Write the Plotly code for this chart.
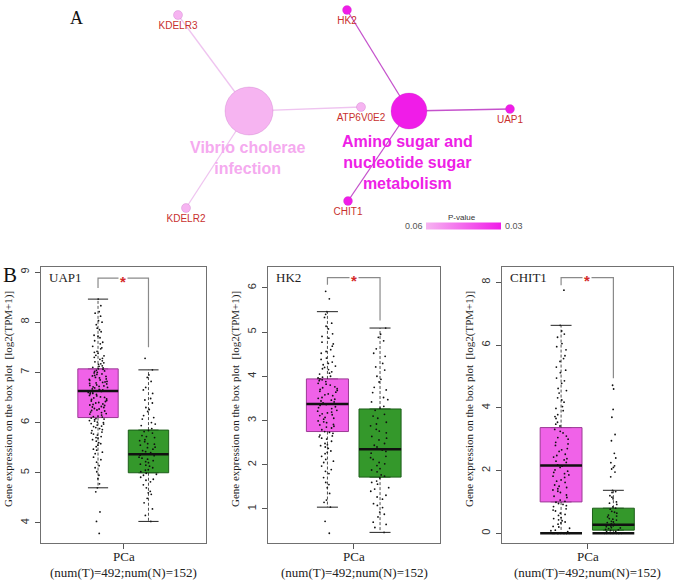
import plotly.graph_objects as go

W, H = 677, 581

# ---------------- panel A : enrichment network ----------------
node_names = ["Vibrio cholerae infection", "Amino sugar and nucleotide sugar metabolism",
              "KDELR3", "KDELR2", "ATP6V0E2", "HK2", "UAP1", "CHIT1"]
node_x = [249, 409, 178, 186, 361, 347, 510, 348]
node_y = [111, 111, 15, 208, 107, 10, 109, 201]
node_pvalue = [0.06, 0.03, 0.06, 0.06, 0.06, 0.03, 0.03, 0.03]
edge_from = [0, 0, 0, 1, 1, 1]
edge_to = [2, 3, 4, 5, 6, 7]
pathway_labels = ["Vibrio cholerae<br>infection", "Amino sugar and<br>nucleotide sugar<br>metabolism"]
pvalue_ticks = ["0.06", "0.03"]

# ---------------- panel B : expression box plots ----------------
genes = ["UAP1", "HK2", "CHIT1"]
n_tumor, n_normal = 492, 152
tumor_q1 = [6.10, 2.75, 1.00]
tumor_median = [6.63, 3.37, 2.16]
tumor_q3 = [7.07, 3.94, 3.37]
tumor_lower = [4.70, 1.04, 0.00]
tumor_upper = [8.46, 5.46, 6.63]
normal_q1 = [5.00, 1.72, 0.10]
normal_median = [5.37, 2.35, 0.27]
normal_q3 = [5.85, 3.26, 0.80]
normal_lower = [4.03, 0.47, 0.00]
normal_upper = [7.05, 5.09, 1.37]
y_ticks = [[4, 5, 6, 7, 8, 9], [1, 2, 3, 4, 5, 6], [0, 2, 4, 6, 8]]

# sample points (a readable subset of the jittered dots)
uap1_tumor = [3.79, 4.03, 4.22, 4.62, 4.70, 4.78, 4.88, 4.95, 5.02, 5.10, 5.14, 5.21, 5.26, 5.31,
              5.38, 5.41, 5.47, 5.52, 5.55, 5.58, 5.63, 5.66, 5.69, 5.72, 5.75, 5.79, 5.81, 5.84,
              5.88, 5.90, 5.93, 5.95, 5.98, 6.01, 6.03, 6.06, 6.08, 6.11, 6.13, 6.15, 6.18, 6.20,
              6.23, 6.25, 6.27, 6.30, 6.32, 6.35, 6.37, 6.39, 6.42, 6.44, 6.46, 6.49, 6.51, 6.53,
              6.56, 6.58, 6.60, 6.62, 6.64, 6.66, 6.69, 6.71, 6.73, 6.75, 6.78, 6.80, 6.82, 6.85,
              6.87, 6.89, 6.92, 6.94, 6.97, 6.99, 7.02, 7.04, 7.07, 7.10, 7.13, 7.16, 7.19, 7.23,
              7.26, 7.30, 7.34, 7.38, 7.42, 7.47, 7.52, 7.57, 7.63, 7.69, 7.74, 7.81, 7.88, 7.95,
              8.03, 8.12, 8.21, 8.33, 8.46,
              5.45, 5.60, 5.70, 5.77, 5.86, 5.92, 5.97, 6.00, 6.04, 6.07, 6.09, 6.12, 6.17, 6.21,
              6.24, 6.28, 6.31, 6.34, 6.36, 6.40, 6.43, 6.47, 6.50, 6.54, 6.57, 6.59, 6.61, 6.63,
              6.65, 6.67, 6.70, 6.72, 6.74, 6.77, 6.79, 6.81, 6.84, 6.86, 6.90, 6.93, 6.96, 7.00,
              7.03, 7.06, 7.09, 7.12, 7.17, 7.21, 7.28, 7.33, 7.40, 7.49, 7.60, 7.72, 7.85, 8.00, 8.18]
uap1_normal = [4.03, 4.15, 4.28, 4.40, 4.49, 4.57, 4.63, 4.70, 4.76, 4.82, 4.87, 4.91, 4.95, 4.99,
               5.02, 5.06, 5.10, 5.13, 5.17, 5.20, 5.24, 5.27, 5.31, 5.34, 5.37, 5.40, 5.44, 5.47,
               5.51, 5.55, 5.58, 5.62, 5.66, 5.70, 5.74, 5.79, 5.84, 5.88, 5.94, 6.00, 6.07, 6.14,
               6.22, 6.30, 6.39, 6.48, 6.58, 6.70, 6.82, 6.95, 7.05, 7.28,
               4.60, 4.85, 4.97, 5.05, 5.15, 5.22, 5.29, 5.35, 5.42, 5.50, 5.57, 5.64, 5.72, 5.82,
               5.97, 6.10, 6.26, 6.45, 6.65, 6.90]
hk2_tumor = [0.45, 0.72, 1.04, 1.20, 1.35, 1.48, 1.60, 1.71, 1.80, 1.89, 1.97, 2.05, 2.12, 2.19,
             2.25, 2.31, 2.37, 2.43, 2.48, 2.53, 2.58, 2.63, 2.67, 2.71, 2.75, 2.79, 2.83, 2.87,
             2.91, 2.95, 2.99, 3.03, 3.07, 3.11, 3.15, 3.19, 3.23, 3.27, 3.31, 3.34, 3.37, 3.40,
             3.44, 3.48, 3.52, 3.56, 3.60, 3.64, 3.68, 3.72, 3.76, 3.80, 3.84, 3.88, 3.92, 3.96,
             4.00, 4.05, 4.10, 4.15, 4.20, 4.26, 4.32, 4.38, 4.45, 4.52, 4.60, 4.68, 4.77, 4.86,
             4.96, 5.07, 5.20, 5.33, 5.46, 5.75, 5.92,
             1.15, 1.55, 1.85, 2.08, 2.28, 2.45, 2.60, 2.73, 2.85, 2.97, 3.05, 3.13, 3.21, 3.29,
             3.36, 3.42, 3.50, 3.58, 3.66, 3.74, 3.82, 3.90, 3.98, 4.07, 4.17, 4.29, 4.41, 4.56,
             4.73, 4.90, 5.13, 5.40, 2.40, 2.65, 2.90, 3.17, 3.46, 3.70, 3.94, 4.23]
hk2_normal = [0.47, 0.58, 0.70, 0.82, 0.93, 1.03, 1.12, 1.22, 1.31, 1.40, 1.48, 1.56, 1.63, 1.70,
              1.77, 1.84, 1.91, 1.98, 2.05, 2.12, 2.19, 2.26, 2.33, 2.40, 2.48, 2.56, 2.64, 2.72,
              2.80, 2.88, 2.96, 3.05, 3.14, 3.23, 3.32, 3.42, 3.52, 3.63, 3.75, 3.87, 4.00, 4.14,
              4.29, 4.45, 4.62, 4.80, 4.95, 5.09,
              0.65, 0.88, 1.08, 1.27, 1.45, 1.60, 1.74, 1.88, 2.02, 2.16, 2.30, 2.44, 2.60, 2.76,
              2.92, 3.10, 3.28, 3.47, 3.69, 3.93, 4.21, 4.52, 4.88]
chit1_tumor = [0, 0, 0, 0, 0, 0, 0, 0, 0.05, 0.10, 0.16, 0.22, 0.29, 0.36, 0.43, 0.50, 0.57, 0.64,
               0.71, 0.78, 0.85, 0.92, 0.99, 1.06, 1.14, 1.22, 1.30, 1.38, 1.46, 1.54, 1.62, 1.70,
               1.78, 1.86, 1.94, 2.02, 2.10, 2.18, 2.26, 2.34, 2.43, 2.52, 2.61, 2.70, 2.80, 2.90,
               3.00, 3.10, 3.20, 3.31, 3.42, 3.54, 3.66, 3.78, 3.91, 4.04, 4.18, 4.32, 4.47, 4.62,
               4.78, 4.95, 5.12, 5.30, 5.48, 5.66, 5.85, 6.05, 6.25, 6.45, 6.63, 7.75,
               0, 0, 0, 0, 0.08, 0.20, 0.33, 0.47, 0.60, 0.74, 0.88, 1.02, 1.18, 1.34, 1.50, 1.66,
               1.82, 1.98, 2.14, 2.30, 2.48, 2.66, 2.85, 3.05, 3.25, 3.48, 3.72, 3.98, 4.25, 4.55,
               4.86, 5.20, 5.57, 5.95, 6.35, 0.40, 0.95, 1.42, 1.90, 2.38]
chit1_normal = [0, 0, 0, 0, 0, 0, 0.03, 0.06, 0.09, 0.12, 0.15, 0.18, 0.21, 0.24, 0.27, 0.30, 0.34,
                0.38, 0.42, 0.47, 0.52, 0.58, 0.64, 0.70, 0.77, 0.84, 0.92, 1.00, 1.10, 1.20, 1.30,
                1.37, 1.80, 1.95, 2.05, 2.15, 2.25, 2.40, 2.55, 2.95, 3.15, 3.70, 3.95, 4.60, 4.72,
                0, 0, 0.05, 0.11, 0.17, 0.23, 0.29, 0.36, 0.45, 0.55, 0.67, 0.80, 0.96, 1.15, 1.33,
                2.10]
tumor_points = [uap1_tumor, hk2_tumor, chit1_tumor]
normal_points = [uap1_normal, hk2_normal, chit1_normal]

# significance bracket levels (tumor end, top, normal end)
sig_tumor = [8.68, 6.07, 7.91]
sig_top = [8.88, 6.23, 8.15]
sig_normal = [7.50, 5.26, 4.94]

# ---------------- styling ----------------
SERIF = "Liberation Serif"
SANS = "Liberation Sans"
LIGHT = "#f6b4f1"
MAGENTA = "#f01ce8"
TUMOR_FILL, TUMOR_EDGE = "#f062e8", "#9c3a95"
NORMAL_FILL, NORMAL_EDGE = "#34982b", "#1d5e1a"
panel_left = [41, 268, 502]
panel_right = [206, 440, 673]
panel_top, panel_bottom = 267, 543
y_ranges = [[3.6, 9.1], [0.23, 6.47], [-0.31, 8.49]]
x_range = [-1.13, 2.14]
BOX_W = 0.8


def px(x):
    return x / W


def py(y):
    return 1 - y / H


def note(x, y, text, size, color, family=SANS, **kw):
    """text placed in figure pixels (measured from the top-left corner)"""
    d = dict(x=px(x), y=py(y), xref="paper", yref="paper", text=text, showarrow=False,
             xanchor="center", yanchor="middle", font=dict(family=family, size=size, color=color))
    d.update(kw)
    return d


def main():
    fig = go.Figure()
    annotations = []

    # ---- network edges ----
    for a, b in zip(edge_from, edge_to):
        col = "#efc4f0" if node_pvalue[a] > 0.045 else "#c552cc"
        fig.add_trace(go.Scatter(x=[node_x[a], node_x[b]], y=[node_y[a], node_y[b]], mode="lines",
                                 line=dict(color=col, width=1.3), xaxis="x4", yaxis="y4",
                                 hoverinfo="skip", showlegend=False))

    # ---- network nodes (colour = p-value, light = 0.06, magenta = 0.03) ----
    sizes = [48, 36] + [9] * (len(node_names) - 2)
    gene_text = [""] * 2 + node_names[2:]
    fig.add_trace(go.Scatter(
        x=node_x, y=node_y, mode="markers+text", text=gene_text, textposition="bottom center",
        textfont=dict(family=SANS, size=10, color="#c8302e"),
        marker=dict(size=sizes, color=[-p for p in node_pvalue], cmin=-0.06, cmax=-0.03,
                    colorscale=[[0, LIGHT], [1, MAGENTA]], opacity=1,
                    line=dict(width=0.6, color="rgba(170,60,170,0.35)"),
                    colorbar=dict(orientation="h", x=px(463.5), xanchor="center", y=py(225.5),
                                  yanchor="middle", len=75, lenmode="pixels", thickness=7,
                                  thicknessmode="pixels", outlinewidth=0, showticklabels=False,
                                  ticks="", xpad=0, ypad=0)),
        xaxis="x4", yaxis="y4", hoverinfo="skip", showlegend=False))

    label_dy = [46.5, 51.5]
    label_col = ["#f5aaef", "#ee20e6"]
    for i in range(2):
        annotations.append(dict(x=node_x[i] - 2, y=node_y[i] + label_dy[i], xref="x4", yref="y4",
                                text="<b>" + pathway_labels[i] + "</b>", showarrow=False,
                                xanchor="center", yanchor="middle",
                                font=dict(family=SANS, size=16, color=label_col[i])))

    annotations.append(note(462, 217, "P-value", 8, "#333"))
    annotations.append(note(414, 226, pvalue_ticks[0], 9, "#555"))
    annotations.append(note(514, 226, pvalue_ticks[1], 9, "#555"))
    annotations.append(note(76, 18, "A", 18, "#111", SERIF))
    annotations.append(note(10, 275, "B", 21, "#111", SERIF))

    # ---- box plots ----
    for i, gene in enumerate(genes):
        xa = "x" if i == 0 else "x%d" % (i + 1)
        ya = "y" if i == 0 else "y%d" % (i + 1)
        groups = [
            (0, tumor_q1[i], tumor_median[i], tumor_q3[i], tumor_lower[i], tumor_upper[i],
             tumor_points[i], TUMOR_FILL, TUMOR_EDGE),
            (1, normal_q1[i], normal_median[i], normal_q3[i], normal_lower[i], normal_upper[i],
             normal_points[i], NORMAL_FILL, NORMAL_EDGE),
        ]
        for pos, q1, med, q3, lo, up, pts, fill, edge in groups:
            fig.add_trace(go.Box(x=[pos], q1=[q1], median=[med], q3=[q3], lowerfence=[q1],
                                 upperfence=[q3], width=BOX_W, fillcolor=fill,
                                 line=dict(color=edge, width=1), boxpoints=False,
                                 xaxis=xa, yaxis=ya, hoverinfo="skip", showlegend=False))
            # dashed whiskers
            fig.add_trace(go.Scatter(x=[pos, pos, None, pos, pos], y=[q3, up, None, q1, lo],
                                     mode="lines", line=dict(color="#222", width=0.8, dash="3px,2px"),
                                     xaxis=xa, yaxis=ya, hoverinfo="skip", showlegend=False))
            # caps
            c = BOX_W / 4
            fig.add_trace(go.Scatter(x=[pos - c, pos + c, None, pos - c, pos + c],
                                     y=[up, up, None, lo, lo], mode="lines",
                                     line=dict(color="#222", width=1),
                                     xaxis=xa, yaxis=ya, hoverinfo="skip", showlegend=False))
            # jittered samples
            fig.add_trace(go.Box(x=[pos] * len(pts), y=pts, boxpoints="all", jitter=0.5, pointpos=0,
                                 width=BOX_W, fillcolor="rgba(0,0,0,0)",
                                 line=dict(color="rgba(0,0,0,0)", width=0),
                                 marker=dict(size=1.8, color="#111"),
                                 xaxis=xa, yaxis=ya, hoverinfo="skip", showlegend=False))
            # median
            fig.add_trace(go.Scatter(x=[pos - BOX_W / 2, pos + BOX_W / 2], y=[med, med], mode="lines",
                                     line=dict(color="#111", width=2.5),
                                     xaxis=xa, yaxis=ya, hoverinfo="skip", showlegend=False))
            # floor of zero values
            if lo == 0:
                fig.add_trace(go.Scatter(x=[pos - BOX_W / 2, pos + BOX_W / 2], y=[0, 0], mode="lines",
                                         line=dict(color="#111", width=2.5),
                                         xaxis=xa, yaxis=ya, hoverinfo="skip", showlegend=False))

        # significance bracket
        fig.add_trace(go.Scatter(x=[0, 0, 1, 1], y=[sig_tumor[i], sig_top[i], sig_top[i], sig_normal[i]],
                                 mode="lines", line=dict(color="#8a8a8a", width=1.2),
                                 xaxis=xa, yaxis=ya, hoverinfo="skip", showlegend=False))
        annotations.append(dict(x=0.5, y=sig_top[i], xref=xa, yref=ya, text="<b>*</b>",
                                showarrow=False, bgcolor="white", yshift=-3,
                                xanchor="center", yanchor="middle",
                                font=dict(family=SANS, size=15, color="#d42a2a")))
        mid = (panel_left[i] + panel_right[i]) / 2
        annotations.append(note(panel_left[i] + 6, 277, gene, 13, "#222", SERIF, xanchor="left"))
        annotations.append(note(mid, 556, "PCa", 13, "#222", SERIF, borderpad=0))
        annotations.append(note(mid, 572, "(num(T)=%d;num(N)=%d)" % (n_tumor, n_normal), 13, "#222",
                                SERIF, borderpad=0))
        annotations.append(note(panel_left[i] - 33, 399, "Gene expression on the box plot  [log2(TPM+1)]",
                                11, "#222", SERIF, textangle=-90))

    layout = dict(
        width=W, height=H, margin=dict(l=0, r=0, t=0, b=0),
        paper_bgcolor="white", plot_bgcolor="white",
        boxmode="overlay", showlegend=False, hovermode=False,
        annotations=annotations,
        xaxis4=dict(domain=[0, 1], range=[0, W], visible=False, anchor="y4"),
        yaxis4=dict(domain=[py(240), 1], range=[240, 0], visible=False, anchor="x4"),
    )
    for i in range(len(genes)):
        sfx = "" if i == 0 else str(i + 1)
        layout["xaxis" + sfx] = dict(
            domain=[px(panel_left[i]), px(panel_right[i])], range=x_range, anchor="y" + sfx,
            tickvals=[0.5], showticklabels=False, ticks="outside", ticklen=5, tickcolor="#555",
            showgrid=False, zeroline=False, showline=True, mirror=True,
            linecolor="#707070", linewidth=1)
        layout["yaxis" + sfx] = dict(
            domain=[py(panel_bottom), py(panel_top)], range=y_ranges[i], anchor="x" + sfx,
            tickvals=y_ticks[i], tickangle=-90, ticks="outside", ticklen=5, tickcolor="#555",
            ticklabelstandoff=2,
            tickfont=dict(family=SANS, size=11, color="#333"),
            showgrid=False, zeroline=False, showline=True, mirror=True,
            linecolor="#707070", linewidth=1)
    fig.update_layout(**layout)

    # page body margin off so the figure sits at the window's corner; no mode bar
    fig.write_html("out.html", config={"displayModeBar": False},
                   post_script="document.body.style.margin='0px';")


main()
